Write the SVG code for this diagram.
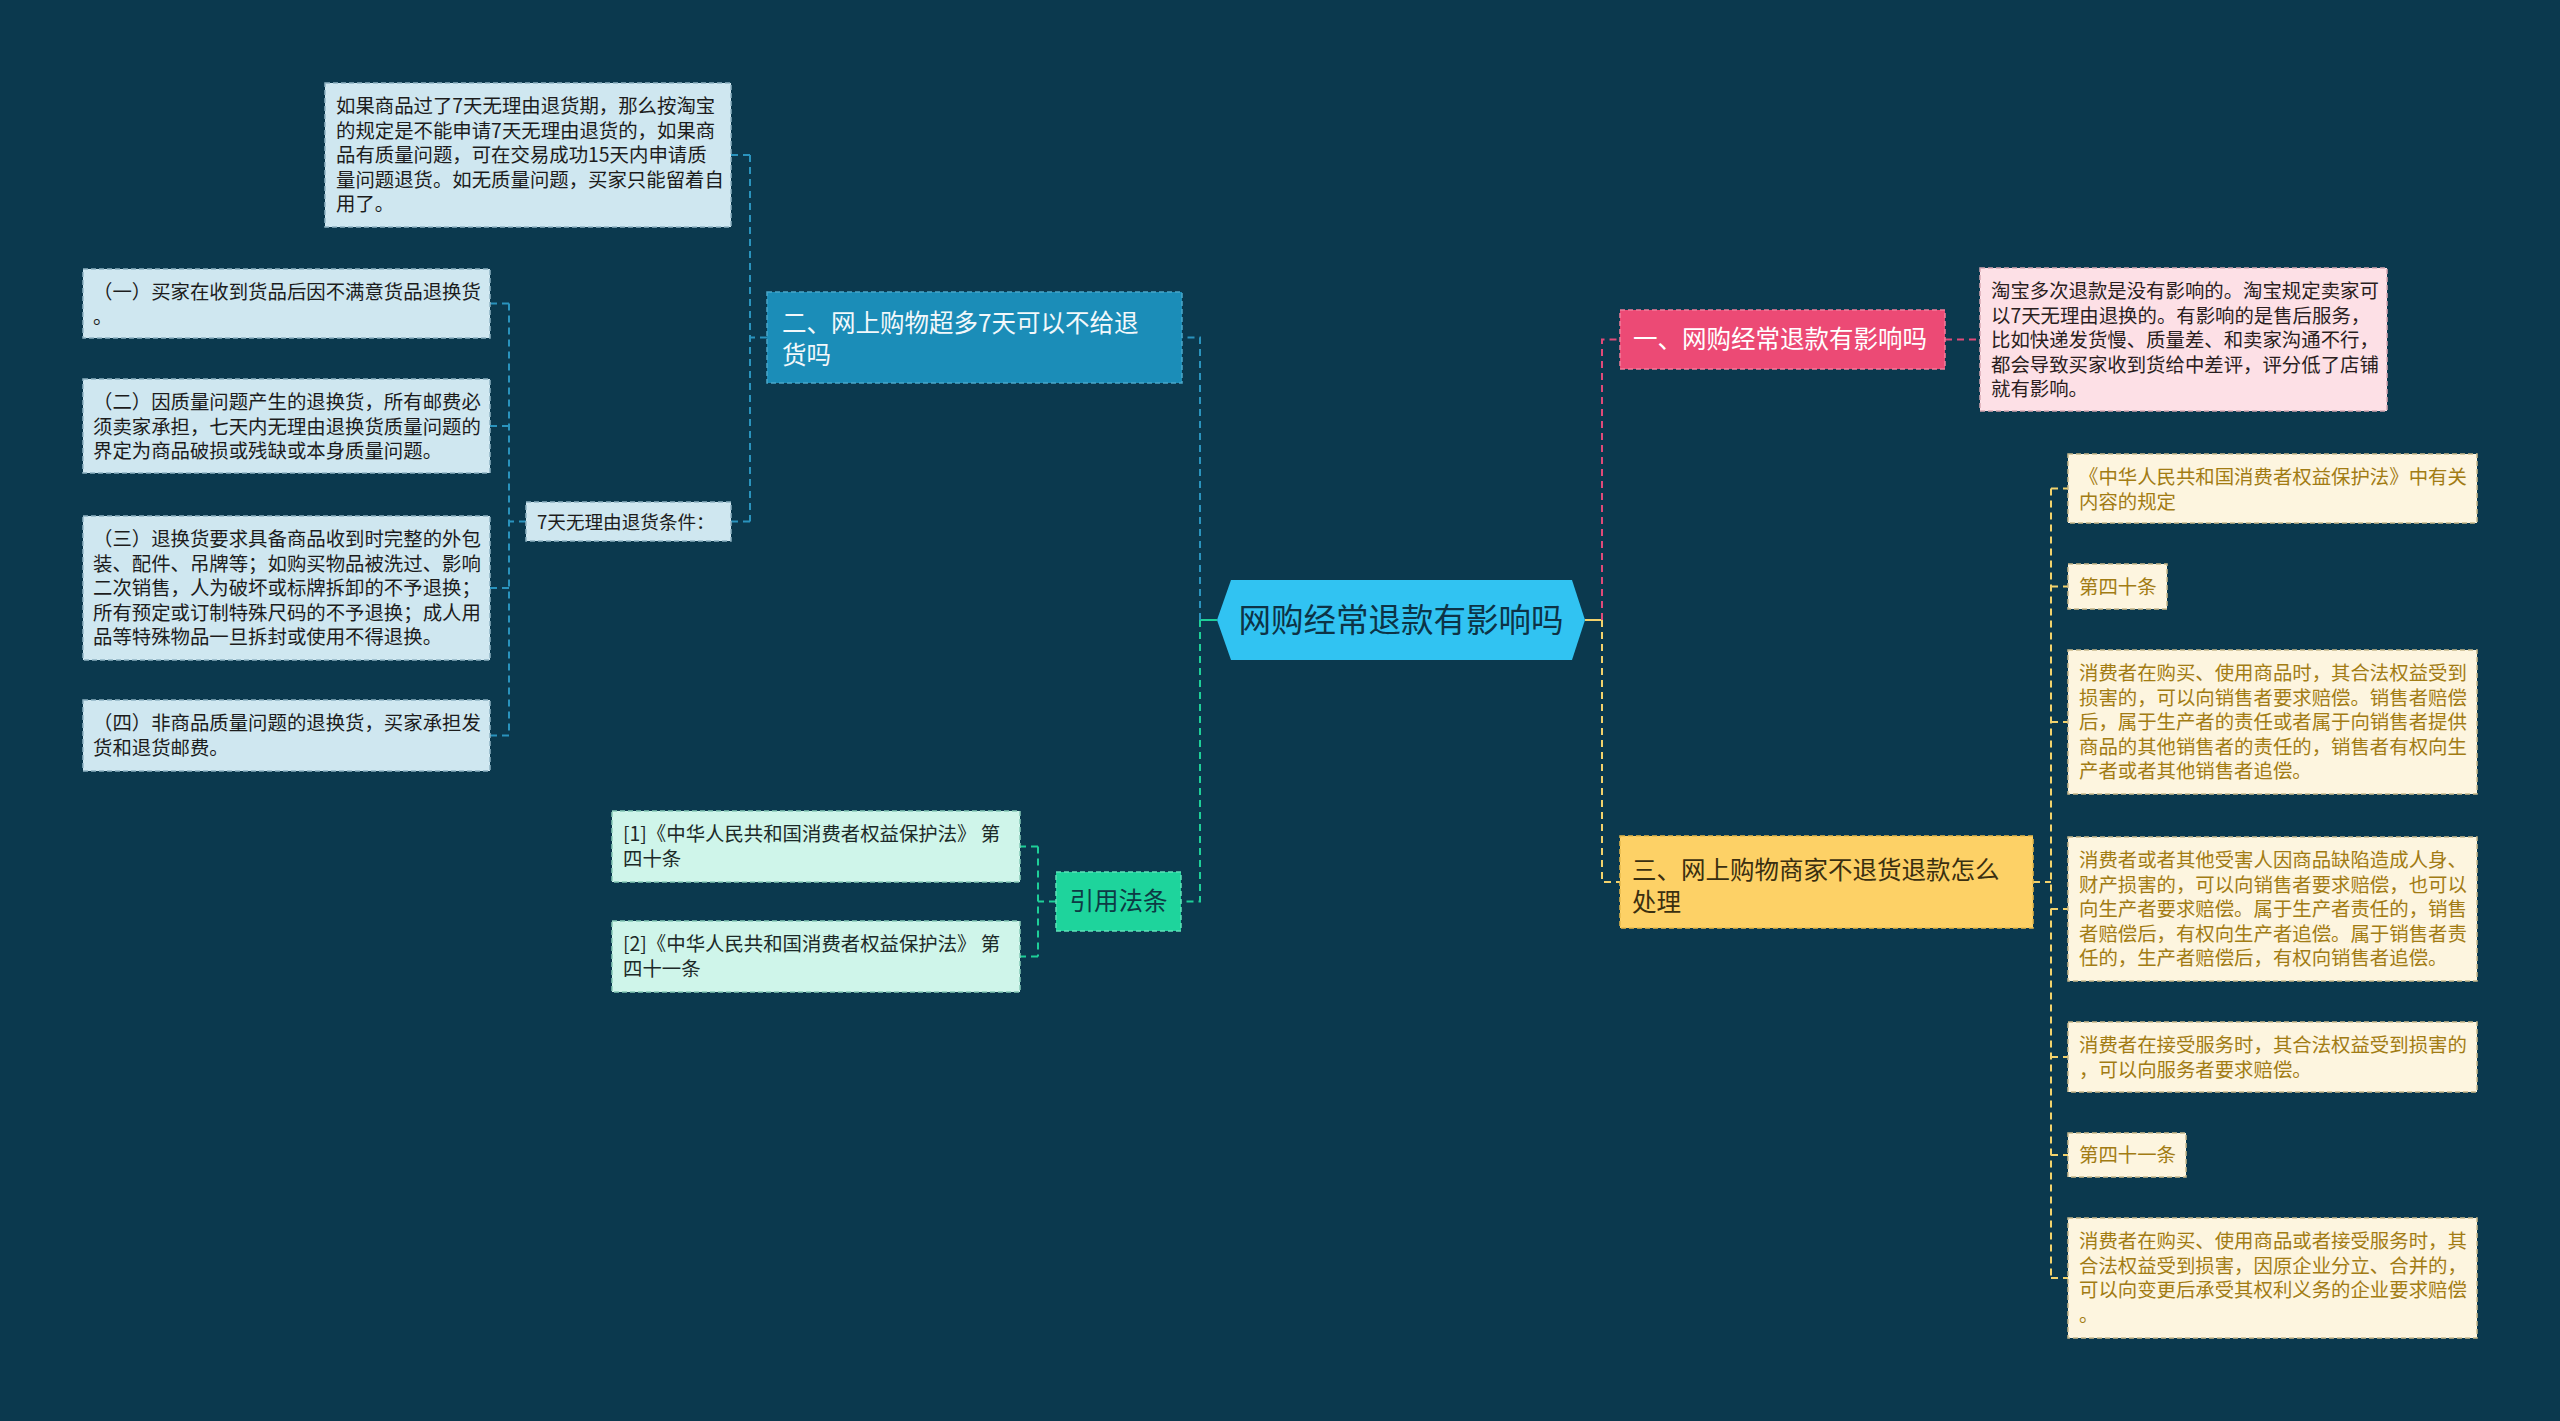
<svg xmlns="http://www.w3.org/2000/svg" width="2560" height="1421" viewBox="0 0 2560 1421">
<style>
text{font-family:"Noto Sans CJK SC","Noto Sans",sans-serif}
.c{fill:none;stroke-width:2;stroke-dasharray:7 5}
.cb{stroke:#2a93bd}.cg{stroke:#1ecf98}.cp{stroke:#e04a78}.cy{stroke:#f2d26c}
.lb rect{fill:#cfe7f0;stroke:#8fb3c2;stroke-width:1.5;stroke-dasharray:5 3}
.lb text{font-size:19.4px;fill:#1c1c1c}
.mt rect{fill:#cff5ea;stroke:#86c9b6;stroke-width:1.5;stroke-dasharray:5 3}
.mt text{font-size:19.4px;fill:#1c2a28}
.cr rect{fill:#fdf5df;stroke:#c9b98c;stroke-width:1.5;stroke-dasharray:5 3}
.cr text{font-size:19.4px;fill:#a27c14}
.pk rect{fill:#fde0e6;stroke:#d8a8b3;stroke-width:1.5;stroke-dasharray:5 3}
.pk text{font-size:19.4px;fill:#2a1e1e}
.br text{font-size:24.5px}
</style>
<rect width="2560" height="1421" fill="#0b394e"/>

<g id="connectors">
  <!-- root left -->
  <path d="M1217,620 H1200" fill="none" stroke="#1ecf98" stroke-width="2"/>
  <path class="c cb" d="M1200,620 V337.5 H1182"/>
  <path class="c cg" d="M1200,620 V901.5 H1181"/>
  <!-- branch two -->
  <path class="c cb" d="M767,337.5 H750 M750,155 V521.5 M750,155 H731 M750,521.5 H731"/>
  <!-- seven-day conditions -->
  <path class="c cb" d="M526,521.5 H509 M509,303.5 V735.5 M509,303.5 H490 M509,426 H490 M509,588 H490 M509,735.5 H490"/>
  <!-- law refs -->
  <path class="c cg" d="M1056,901.5 H1038 M1038,846.5 V956.5 M1038,846.5 H1020 M1038,956.5 H1020"/>
  <!-- root right -->
  <path d="M1585,620 H1602" fill="none" stroke="#f2d26c" stroke-width="2"/>
  <path class="c cp" d="M1602,620 V339.5 H1620"/>
  <path class="c cy" d="M1602,620 V882 H1620"/>
  <path class="c cp" d="M1945,339.5 H1980"/>
  <!-- branch three -->
  <path class="c cy" d="M2033,882 H2051 M2051,488.5 V1278 M2051,488.5 H2068 M2051,586.5 H2068 M2051,722 H2068 M2051,909 H2068 M2051,1057 H2068 M2051,1155 H2068 M2051,1278 H2068"/>
</g>

<g id="root">
  <polygon points="1217,620 1231,580 1572,580 1585,620 1572,660 1231,660" fill="#31c3f2"/>
  <text x="1401" y="632" font-size="32.5" fill="#0d3346" text-anchor="middle">网购经常退款有影响吗</text>
</g>

<g id="branch2" class="br">
  <rect x="767" y="292" width="415" height="91" fill="#1b8db8" stroke="#4aa7c9" stroke-width="1.5" stroke-dasharray="5 3"/>
  <text x="782" y="332" fill="#f2f8fb"><tspan x="782">二、网上购物超多7天可以不给退</tspan><tspan x="782" dy="32">货吗</tspan></text>
</g>

<g id="n-taobao" class="lb">
  <rect x="325" y="83" width="406" height="144"/>
  <text y="113"><tspan x="336">如果商品过了7天无理由退货期，那么按淘宝</tspan><tspan x="336" dy="24.5">的规定是不能申请7天无理由退货的，如果商</tspan><tspan x="336" dy="24.5">品有质量问题，可在交易成功15天内申请质</tspan><tspan x="336" dy="24.5">量问题退货。如无质量问题，买家只能留着自</tspan><tspan x="336" dy="24.5">用了。</tspan></text>
</g>

<g id="n-7days" class="lb">
  <rect x="526" y="502" width="205" height="39"/>
  <text x="537" y="529" style="font-size:18.6px">7天无理由退货条件：</text>
</g>

<g id="n-c1" class="lb">
  <rect x="83" y="269" width="407" height="69"/>
  <text y="299"><tspan x="93">（一）买家在收到货品后因不满意货品退换货</tspan><tspan x="93" dy="24.5">。</tspan></text>
</g>
<g id="n-c2" class="lb">
  <rect x="83" y="379" width="407" height="94"/>
  <text y="409"><tspan x="93">（二）因质量问题产生的退换货，所有邮费必</tspan><tspan x="93" dy="24.5">须卖家承担，七天内无理由退换货质量问题的</tspan><tspan x="93" dy="24.5">界定为商品破损或残缺或本身质量问题。</tspan></text>
</g>
<g id="n-c3" class="lb">
  <rect x="83" y="516" width="407" height="144"/>
  <text y="546"><tspan x="93">（三）退换货要求具备商品收到时完整的外包</tspan><tspan x="93" dy="24.5">装、配件、吊牌等；如购买物品被洗过、影响</tspan><tspan x="93" dy="24.5">二次销售，人为破坏或标牌拆卸的不予退换；</tspan><tspan x="93" dy="24.5">所有预定或订制特殊尺码的不予退换；成人用</tspan><tspan x="93" dy="24.5">品等特殊物品一旦拆封或使用不得退换。</tspan></text>
</g>
<g id="n-c4" class="lb">
  <rect x="83" y="700" width="407" height="71"/>
  <text y="730"><tspan x="93">（四）非商品质量问题的退换货，买家承担发</tspan><tspan x="93" dy="24.5">货和退货邮费。</tspan></text>
</g>

<g id="laws" class="br">
  <rect x="1056" y="872" width="125" height="59" fill="#1ed49c" stroke="#5fe0b8" stroke-width="1.5" stroke-dasharray="5 3"/>
  <text x="1118.5" y="910" fill="#0d3a44" text-anchor="middle">引用法条</text>
</g>
<g id="law1" class="mt">
  <rect x="612" y="811" width="408" height="71"/>
  <text y="841"><tspan x="623">[1]《中华人民共和国消费者权益保护法》 第</tspan><tspan x="623" dy="24.5">四十条</tspan></text>
</g>
<g id="law2" class="mt">
  <rect x="612" y="921" width="408" height="71"/>
  <text y="951"><tspan x="623">[2]《中华人民共和国消费者权益保护法》 第</tspan><tspan x="623" dy="24.5">四十一条</tspan></text>
</g>

<g id="branch1" class="br">
  <rect x="1620" y="310" width="325" height="59" fill="#ec4a75" stroke="#f27c9b" stroke-width="1.5" stroke-dasharray="5 3"/>
  <text x="1633" y="348" fill="#ffffff">一、网购经常退款有影响吗</text>
</g>
<g id="n-note1" class="pk">
  <rect x="1980" y="268" width="407" height="143"/>
  <text y="298"><tspan x="1991">淘宝多次退款是没有影响的。淘宝规定卖家可</tspan><tspan x="1991" dy="24.5">以7天无理由退换的。有影响的是售后服务，</tspan><tspan x="1991" dy="24.5">比如快递发货慢、质量差、和卖家沟通不行，</tspan><tspan x="1991" dy="24.5">都会导致买家收到货给中差评，评分低了店铺</tspan><tspan x="1991" dy="24.5">就有影响。</tspan></text>
</g>

<g id="branch3" class="br">
  <rect x="1620" y="836" width="413" height="92" fill="#fdd166" stroke="#e8b94a" stroke-width="1.5" stroke-dasharray="5 3"/>
  <text y="879" fill="#3a2f10"><tspan x="1632">三、网上购物商家不退货退款怎么</tspan><tspan x="1632" dy="32">处理</tspan></text>
</g>

<g id="r1" class="cr">
  <rect x="2068" y="454" width="409" height="69"/>
  <text y="484"><tspan x="2079">《中华人民共和国消费者权益保护法》中有关</tspan><tspan x="2079" dy="24.5">内容的规定</tspan></text>
</g>
<g id="r2" class="cr">
  <rect x="2068" y="564" width="99" height="45"/>
  <text x="2079" y="594">第四十条</text>
</g>
<g id="r3" class="cr">
  <rect x="2068" y="650" width="409" height="144"/>
  <text y="680"><tspan x="2079">消费者在购买、使用商品时，其合法权益受到</tspan><tspan x="2079" dy="24.5">损害的，可以向销售者要求赔偿。销售者赔偿</tspan><tspan x="2079" dy="24.5">后，属于生产者的责任或者属于向销售者提供</tspan><tspan x="2079" dy="24.5">商品的其他销售者的责任的，销售者有权向生</tspan><tspan x="2079" dy="24.5">产者或者其他销售者追偿。</tspan></text>
</g>
<g id="r4" class="cr">
  <rect x="2068" y="837" width="409" height="144"/>
  <text y="867"><tspan x="2079">消费者或者其他受害人因商品缺陷造成人身、</tspan><tspan x="2079" dy="24.5">财产损害的，可以向销售者要求赔偿，也可以</tspan><tspan x="2079" dy="24.5">向生产者要求赔偿。属于生产者责任的，销售</tspan><tspan x="2079" dy="24.5">者赔偿后，有权向生产者追偿。属于销售者责</tspan><tspan x="2079" dy="24.5">任的，生产者赔偿后，有权向销售者追偿。</tspan></text>
</g>
<g id="r5" class="cr">
  <rect x="2068" y="1022" width="409" height="70"/>
  <text y="1052"><tspan x="2079">消费者在接受服务时，其合法权益受到损害的</tspan><tspan x="2079" dy="24.5">，可以向服务者要求赔偿。</tspan></text>
</g>
<g id="r6" class="cr">
  <rect x="2068" y="1133" width="118" height="44"/>
  <text x="2079" y="1162">第四十一条</text>
</g>
<g id="r7" class="cr">
  <rect x="2068" y="1218" width="409" height="120"/>
  <text y="1248"><tspan x="2079">消费者在购买、使用商品或者接受服务时，其</tspan><tspan x="2079" dy="24.5">合法权益受到损害，因原企业分立、合并的，</tspan><tspan x="2079" dy="24.5">可以向变更后承受其权利义务的企业要求赔偿</tspan><tspan x="2079" dy="24.5">。</tspan></text>
</g>
</svg>
